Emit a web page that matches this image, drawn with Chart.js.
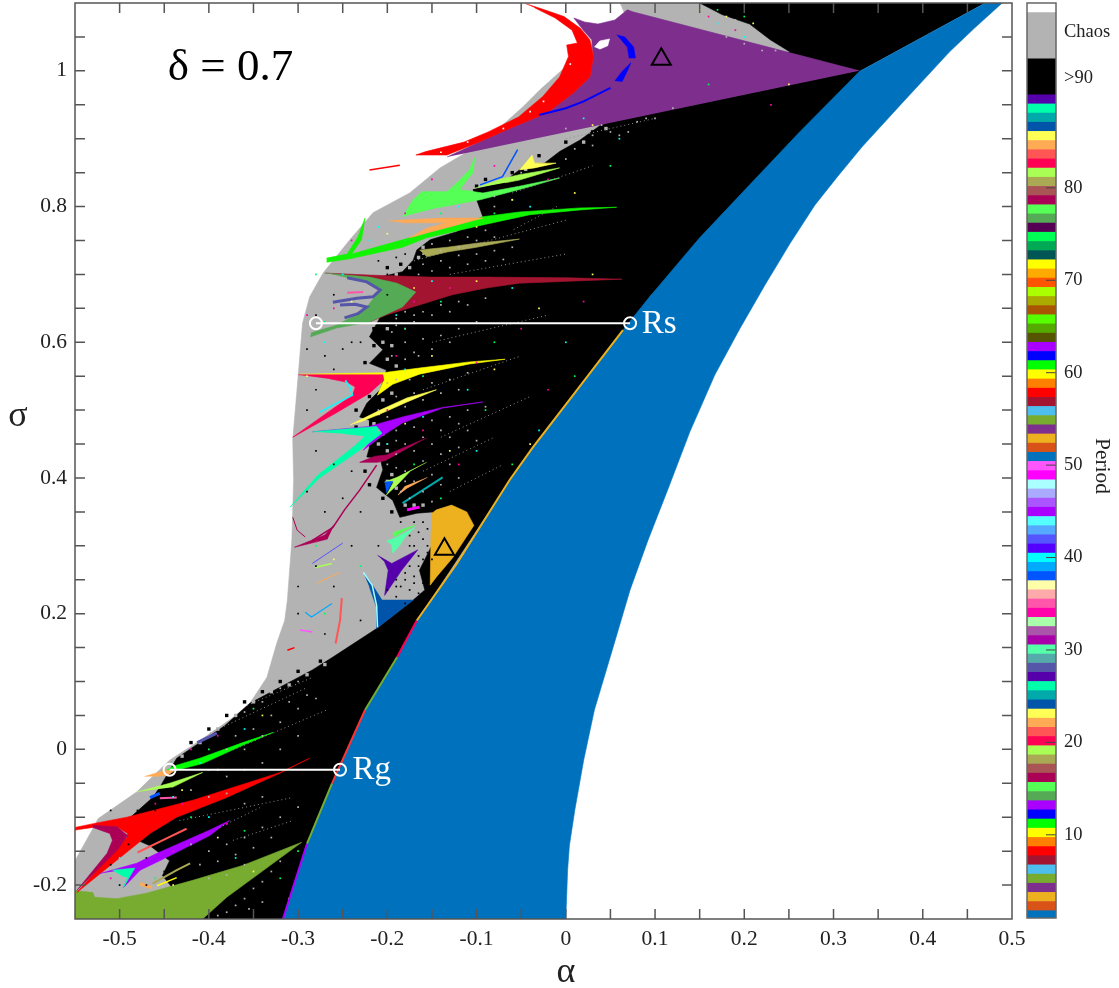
<!DOCTYPE html>
<html>
<head>
<meta charset="utf-8">
<title>Period diagram</title>
<script src="https://cdn.jsdelivr.net/npm/chart.js@4"></script>
<style>
  body { margin: 0; background: #fff; }
  canvas { position: absolute; top: 0; }
  #myChart { left: 0; }
  #periodBar { left: 1020px; }
</style>
</head>
<body>
<canvas id="myChart" width="1119" height="988"></canvas>
<canvas id="periodBar" width="99" height="988"></canvas>
<script>
// axis ticks
const xTickValues = [-0.5,-0.45,-0.4,-0.35,-0.3,-0.25,-0.2,-0.15,-0.1,-0.05,0,0.05,0.1,0.15,0.2,0.25,0.3,0.35,0.4,0.45];
const xTickLabels = ["-0.5","","-0.4","","-0.3","","-0.2","","-0.1","","0","","0.1","","0.2","","0.3","","0.4",""];
const xEndTick = [0.5];
const xEndLabel = ["0.5"];
const yTickValues = [-0.2,-0.15,-0.1,-0.05,0,0.05,0.1,0.15,0.2,0.25,0.3,0.35,0.4,0.45,0.5,0.55,0.6,0.65,0.7,0.75,0.8,0.85,0.9,0.95,1,1.05];
const yTickLabels = ["-0.2","","","","0","","","","0.2","","","","0.4","","","","0.6","","","","0.8","","","","1",""];

// regions of the (alpha, sigma) plane
const greyRegion = [[-.55,-.25],[-.55,-.164],[-.533,-.124],[-.524,-.102],[-.481,-.063],[-.444,-.016],[-.41,.013],[-.373,.047],[-.354,.068],[-.335,.106],[-.324,.156],[-.315,.19],[-.312,.22],[-.307,.308],[-.305,.397],[-.306,.456],[-.3,.549],[-.295,.628],[-.287,.667],[-.272,.702],[-.242,.751],[-.216,.791],[-.175,.82],[-.141,.857],[-.093,.894],[-.048,.947],[-.029,.972],[.066,1.084],[.061,1.1],[.21,1.1],[.3,1.03],[.329,.999],[.094,.667],[-.122,.274],[-.317,-.25]];
const blackRegion = [[.47,1.1],[.15,1.1],[.175,1.083],[.206,1.069],[.229,1.046],[.251,1.028],[.15,.972],[.061,.931],[.038,.919],[.016,.898],[-.007,.881],[-.024,.864],[-.04,.861],[-.052,.854],[-.071,.835],[-.104,.825],[-.093,.785],[-.122,.763],[-.152,.751],[-.167,.736],[-.171,.721],[-.183,.704],[-.208,.696],[-.167,.673],[-.208,.637],[-.22,.608],[-.205,.589],[-.22,.569],[-.201,.559],[-.208,.53],[-.223,.51],[-.231,.49],[-.22,.485],[-.22,.445],[-.223,.431],[-.208,.429],[-.205,.412],[-.212,.386],[-.194,.367],[-.186,.342],[-.167,.348],[-.149,.35],[-.15,.301],[-.164,.264],[-.158,.235],[-.171,.22],[-.212,.178],[-.261,.136],[-.284,.117],[-.354,.068],[-.382,.035],[-.436,-.013],[-.444,-.031],[-.455,-.056],[-.463,-.071],[-.492,-.105],[-.48,-.134],[-.466,-.142],[-.444,-.164],[-.452,-.186],[-.442,-.202],[-.418,-.208],[-.407,-.25],[-.317,-.25],[-.25,-.016],[-.167,.19],[-.063,.397],[.094,.667],[.329,.999]];
const blueBand = [[-.317,-.25],[-.29,-.139],[-.27,-.075],[-.25,-.016],[-.225,.058],[-.189,.136],[-.167,.19],[-.122,.274],[-.063,.397],[-.037,.445],[.004,.515],[.034,.565],[.064,.618],[.094,.667],[.15,.754],[.206,.832],[.262,.91],[.329,.999],[.47,1.1],[.489,1.1],[.458,1.063],[.43,1.028],[.38,.957],[.332,.888],[.305,.845],[.279,.802],[.251,.745],[.223,.684],[.195,.62],[.167,.552],[.139,.468],[.114,.382],[.092,.308],[.072,.235],[.052,.146],[.032,.058],[.02,-.016],[.01,-.09],[.004,-.142],[.002,-.178],[0,-.25]];
const purpleWedge = [[.329,1],[.075,1.087],[.069,1.09],[.055,1.075],[.036,1.069],[.021,1.072],[.009,1.078],[.02,1.059],[.029,1.046],[.031,1.021],[.027,.991],[.009,.968],[-.021,.938],[-.061,.916],[-.099,.894],[-.133,.873]];
const redCrescent = [[-.045,1.099],[-.024,1.09],[-.002,1.08],[.016,1.063],[.027,1.046],[.031,1.021],[.027,.991],[.009,.968],[-.021,.938],[-.061,.916],[-.099,.894],[-.133,.876],[-.168,.876],[-.157,.881],[-.114,.895],[-.087,.91],[-.053,.932],[-.026,.962],[-.007,.991],[.003,1.021],[.001,1.038],[.013,1.041],[.007,1.06],[-.012,1.078],[-.035,1.093]];
const whiteHole = [[.032,1.035],[.038,1.044],[.049,1.047],[.047,1.037],[.038,1.032]];
const blueChip1 = [[.057,1.053],[.066,1.05],[.076,1.035],[.078,1.019],[.071,1.019],[.069,1.035],[.063,1.044]];
const blueChip2 = [[.055,.985],[.063,.999],[.073,1.012],[.069,1.0],[.063,.984]];
const goldBlob = [[-.15,.348],[-.145,.353],[-.128,.36],[-.111,.35],[-.103,.33],[-.127,.282],[-.145,.254],[-.152,.242],[-.151,.323]];
const maroonHorn = [[-.27,.702],[-.22,.699],[-.152,.696],[-.089,.696],[.004,.695],[.063,.693],[.004,.69],[-.052,.687],[-.089,.68],[-.127,.67],[-.164,.655],[-.201,.64],[-.22,.63],[-.208,.677],[-.22,.692]];
const greenCrescent = [[-.27,.702],[-.22,.696],[-.189,.687],[-.168,.674],[-.183,.652],[-.22,.63],[-.257,.621],[-.286,.608],[-.285,.614],[-.257,.625],[-.233,.642],[-.223,.652],[-.208,.677],[-.223,.689],[-.257,.699]];
const limeFan = [[-.183,.785],[-.171,.81],[-.161,.822],[-.133,.822],[-.122,.835],[-.108,.854],[-.102,.872],[-.104,.85],[-.119,.825],[-.093,.82],[-.052,.83],[-.007,.842],[-.052,.825],[-.096,.81],[-.145,.798]];
const greenHorn = [[-.268,.724],[-.245,.73],[-.233,.755],[-.225,.783],[-.229,.751],[-.24,.73],[-.183,.751],[-.156,.761],[-.122,.773],[-.093,.785],[-.052,.792],[.016,.798],[.057,.799],[.016,.795],[-.04,.788],[-.093,.773],[-.156,.754],[-.183,.74],[-.242,.723],[-.268,.718]];
const orangeHorn = [[-.199,.779],[-.138,.783],[-.093,.783],[-.122,.773],[-.156,.761],[-.175,.754],[-.156,.768],[-.133,.776],[-.183,.776]];
const oliveHorn = [[-.164,.736],[-.133,.74],[-.1,.746],[-.052,.752],[-.1,.74],[-.133,.733],[-.156,.726]];
const springHorn = [[-.102,.827],[-.068,.842],[-.052,.847],[-.007,.857],[-.052,.839],[-.068,.835]];
const paleYellowTop = [[-.038,.876],[-.035,.864],[-.011,.864],[-.035,.857],[-.052,.854]];
const crimsonHorn = [[-.3,.552],[-.205,.552],[-.204,.544],[-.22,.525],[-.257,.496],[-.306,.46],[-.259,.504],[-.239,.522],[-.236,.534],[-.245,.541],[-.264,.546]];
const yellowHorn = [[-.298,.553],[-.205,.555],[-.164,.562],[-.108,.571],[-.068,.575],[-.108,.568],[-.164,.553],[-.194,.538],[-.211,.522],[-.204,.544],[-.205,.55]];
const paleYellowHorn = [[-.242,.478],[-.208,.5],[-.178,.518],[-.145,.53],[-.178,.512],[-.205,.496],[-.231,.482]];
const violetHorn = [[-.284,.468],[-.22,.476],[-.183,.49],[-.138,.504],[-.093,.512],[-.138,.503],[-.183,.481],[-.208,.46],[-.227,.441],[-.212,.466]];
const tealHorn = [[-.284,.468],[-.212,.476],[-.206,.466],[-.231,.441],[-.276,.4],[-.309,.357],[-.278,.404],[-.236,.448],[-.225,.462],[-.248,.465]];
const wineHorn = [[-.156,.459],[-.201,.434],[-.214,.432],[-.231,.423],[-.211,.423],[-.201,.426]];
const wineTail = [[-.259,.332],[-.27,.316],[-.287,.307],[-.304,.298],[-.285,.304],[-.267,.31]];
const springSmall = [[-.156,.423],[-.189,.401],[-.203,.394],[-.193,.394],[-.201,.375],[-.188,.391],[-.175,.409]];
const blueSmall = [[-.203,.394],[-.194,.395],[-.201,.378]];
const orangeSmall = [[-.155,.401],[-.178,.385],[-.188,.375],[-.18,.388]];
const mintSmall = [[-.201,.307],[-.192,.311],[-.169,.327],[-.18,.313],[-.186,.301],[-.194,.289],[-.195,.301]];
const limeSmall = [[-.194,.319],[-.18,.326],[-.169,.33],[-.18,.323],[-.192,.313]];
const indigoFan = [[-.211,.286],[-.195,.274],[-.166,.294],[-.184,.264],[-.203,.227],[-.199,.264],[-.203,.276]];
const navyFan = [[-.227,.261],[-.22,.249],[-.206,.22],[-.171,.22],[-.212,.178],[-.212,.209],[-.22,.239]];
const redFan = [[-.55,-.115],[-.524,-.108],[-.492,-.1],[-.418,-.075],[-.32,-.034],[-.287,-.013],[-.32,-.035],[-.38,-.071],[-.436,-.1],[-.466,-.124],[-.548,-.211],[-.492,-.13],[-.491,-.124],[-.503,-.114],[-.53,-.115],[-.55,-.119]];
const wineCrescent = [[-.53,-.112],[-.503,-.114],[-.491,-.127],[-.503,-.149],[-.548,-.208],[-.514,-.153],[-.508,-.134],[-.511,-.124],[-.53,-.115]];
const greenLow = [[-.448,-.031],[-.438,-.024],[-.41,-.013],[-.362,.01],[-.328,.025],[-.362,.006],[-.407,-.021],[-.438,-.031]];
const orangeLow = [[-.472,-.04],[-.449,-.031],[-.438,-.031],[-.446,-.038],[-.46,-.04]];
const springLow = [[-.481,-.063],[-.444,-.05],[-.407,-.034],[-.441,-.056]];
const violetLow = [[-.522,-.183],[-.481,-.168],[-.458,-.153],[-.399,-.119],[-.377,-.105],[-.399,-.127],[-.455,-.164],[-.477,-.178],[-.496,-.204],[-.483,-.175]];
const tealLow = [[-.508,-.178],[-.483,-.175],[-.496,-.204],[-.491,-.189],[-.498,-.186]];
const oliveCorner = [[-.55,-.208],[-.53,-.211],[-.528,-.218],[-.503,-.22],[-.47,-.212],[-.418,-.193],[-.362,-.171],[-.296,-.137],[-.38,-.218],[-.407,-.25],[-.55,-.25]];

const regionColors = {
  grey: "#b3b3b3", black: "#000000", blue: "#0072bd", purple: "#7e2f8e", red: "#ff0000",
  gold: "#edb120", maroon: "#a2142f", olive: "#77ac30", green55: "#55aa55", lime: "#55ff55",
  green: "#11f500", orange: "#ffaa55", khaki: "#aaaa55", spring: "#aaff55", paleYellow: "#ffff55",
  crimson: "#ff0055", yellow: "#ffff00", violet: "#aa00ff", teal: "#00ffaa", wine: "#aa0055",
  azure: "#0055ff", indigo: "#5500aa", navy: "#0055aa", pure: "#0000ff"
};

// thin strokes
const periwinkleArcA = [[-.245,.695],[-.223,.689],[-.208,.677],[-.216,.667],[-.234,.665],[-.261,.659]];
const periwinkleArcB = [[-.253,.655],[-.236,.656],[-.223,.652],[-.233,.642],[-.248,.636]];
const pinkArc = [[-.245,.673],[-.227,.674]];
const azureLine = [[-.096,.832],[-.071,.844],[-.054,.884]];
const cyanEdge = [[-.247,.544],[-.242,.534],[-.239,.522],[-.276,.497]];
const wineCurve = [[-.212,.419],[-.231,.382],[-.248,.353],[-.261,.327],[-.284,.308]];
const wineArc = [[-.306,.342],[-.301,.323],[-.292,.313]];
const navyEdge = [[-.227,.261],[-.217,.242],[-.212,.212],[-.211,.18]];
const coralStroke = [[-.251,.223],[-.253,.19],[-.258,.156]];
const skyStroke = [[-.292,.202],[-.285,.195],[-.262,.215]];
const magentaStroke = [[-.298,.176],[-.284,.173]];
const redStroke = [[-.312,.146],[-.304,.15]];
const springStroke = [[-.281,.268],[-.262,.274]];
const azureStroke = [[-.284,.274],[-.25,.304]];
const orangeStroke = [[-.279,.245],[-.253,.261]];
const redNoise = [[-.22,.854],[-.186,.861]];
const chipLine = [[-.03,.935],[0,.945],[.02,.955],[.05,.975]];
const coralLow = [[-.48,-.152],[-.452,-.134],[-.425,-.117]];
const khakiLow = [[-.463,-.198],[-.436,-.178],[-.421,-.168]];
const yellowLow = [[-.458,-.201],[-.436,-.189]];
const peachLow = [[-.477,-.198],[-.464,-.204]];
const indigoLow = [[-.413,.01],[-.391,.024]];
const azureLow = [[-.466,-.071],[-.455,-.065]];
const pinkLow = [[-.455,-.072],[-.436,-.071]];
const tealSmall = [[-.138,.401],[-.183,.363]];
const magentaSmall = [[-.178,.353],[-.164,.357]];
const bandEdgeViolet = [[-.317,-.25],[-.29,-.139]];
const bandEdgeOlive = [[-.29,-.139],[-.262,-.05]];
const bandEdgeRed = [[-.262,-.05],[-.225,.058]];
const bandEdgeGreen = [[-.225,.058],[-.189,.136]];
const bandEdgePink = [[-.189,.136],[-.167,.19]];
const bandEdgeGold = [[-.167,.19],[-.122,.274],[-.063,.397],[-.037,.445],[.004,.515],[.064,.618]];

// faint streaks running out of the horns
const streaks = [
  [[-.357,.065],[-.284,.106]], [[-.399,.024],[-.29,.091]], [[-.373,-.001],[-.268,.058]],
  [[-.433,-.105],[-.306,-.071]], [[-.388,-.115],[-.343,-.086]], [[-.373,-.134],[-.306,-.105]],
  [[-.17,.72],[0,.78]], [[-.13,.7],[0,.73]], [[-.15,.6],[-.02,.64]], [[-.16,.53],[-.05,.58]],
  [[-.14,.46],[-.04,.52]], [[-.16,.41],[-.08,.46]], [[-.13,.38],[-.07,.42]], [[0,.9],[.1,.93]],
  [[-.01,.8],[-.06,.765]], [[-.06,.82],[.03,.86]]
];

// isolated pixels
const greySpecks = [[-.16,.715],[-.14,.72],[-.12,.728],[-.1,.73],[-.08,.735],[-.06,.74],[-.15,.705],[-.13,.71],[-.11,.715],[-.09,.72],[-.07,.722],[-.165,.7],[-.19,.625],[-.17,.63],[-.15,.64],[-.13,.645],[-.11,.655],[-.09,.665],[-.18,.6],[-.16,.605],[-.14,.61],[-.12,.62],[-.1,.63],[-.17,.585],[-.15,.59],[-.13,.6],[-.19,.52],[-.17,.525],[-.15,.54],[-.13,.545],[-.11,.555],[-.18,.505],[-.16,.515],[-.14,.525],[-.12,.53],[-.19,.47],[-.17,.475],[-.15,.485],[-.13,.49],[-.11,.5],[-.09,.505],[-.18,.45],[-.16,.46],[-.14,.47],[-.12,.48],[-.19,.435],[-.17,.44],[-.15,.45],[-.13,.46],[-.11,.47],[-.18,.41],[-.16,.425],[-.14,.435],[-.12,.445],[-.1,.455],[-.17,.395],[-.15,.405],[-.13,.42],[-.16,.38],[-.14,.39],[-.12,.4],[-.15,.365],[0,.915],[.02,.905],[.04,.92],[.06,.905],[.08,.925],[.1,.93],[.12,.945],[-.01,.895],[.03,.89],[.07,.91],[-.02,.875],[0,.87],[.16,1.06],[.18,1.05],[.2,1.04],[.22,1.03],[.19,1.075],[.21,1.055],[.235,1.03],[-.36,.055],[-.34,.07],[-.32,.09],[-.3,.1],[-.35,.03],[-.33,.05],[-.31,.07],[-.29,.08],[-.37,.02],[-.38,0],[-.36,0],[-.34,.02],[-.32,.04],[-.3,.06],[-.28,.075],[-.4,-.03],[-.38,-.04],[-.36,-.03],[-.34,-.02],[-.32,0],[-.3,.02],[-.42,-.06],[-.4,-.07],[-.38,-.065],[-.36,-.08],[-.34,-.07],[-.42,-.14],[-.4,-.15],[-.38,-.14],[-.36,-.13],[-.34,-.115],[-.32,-.1],[-.3,-.085],[-.41,-.17],[-.39,-.165],[-.37,-.155],[-.35,-.145],[-.33,-.13],[-.4,-.19],[-.38,-.185],[-.36,-.17],[-.38,-.24],[-.37,-.23],[-.36,-.22],[-.35,-.205],[-.34,-.195],[-.33,-.18],[-.32,-.165],[-.39,-.245],[-.355,-.235],[-.34,-.225],[-.15,.745],[-.13,.75],[-.11,.755],[-.09,.765],[-.14,.735],[-.12,.74],[-.1,.75],[-.16,.73],[-.08,.755],[-.18,.645],[-.16,.645],[-.14,.655],[-.12,.66],[-.19,.635],[-.17,.64],[-.195,.615],[-.18,.62],[-.195,.58],[-.18,.575],[-.165,.58],[-.2,.54],[-.19,.545],[-.175,.545],[-.21,.5],[-.2,.49],[-.21,.47],[-.2,.45],[-.19,.455],[-.2,.42],[-.19,.415],[-.18,.395],[-.185,.38],[-.175,.37],[-.03,.87],[-.015,.88],[.01,.885],[.03,.905],[.05,.91],[.09,.93],[-.05,.85],[-.08,.8],[-.1,.8],[-.08,.815],[-.06,.81]];
const greyEdgeSpecks = [[-.2,.62],[-.205,.6],[-.195,.595],[-.2,.575],[-.19,.565],[-.195,.525],[-.205,.515],[-.21,.495],[-.215,.48],[-.205,.465],[-.21,.45],[-.2,.44],[-.195,.405],[-.2,.395],[-.19,.385],[-.18,.36],[-.17,.36],[-.16,.36],[-.16,.74],[-.165,.725],[-.175,.71],[-.19,.7],[-.045,.855],[-.035,.87],[-.01,.885],[.02,.895],[.045,.915],[-.27,.125],[-.29,.11],[-.31,.095],[-.33,.085],[-.35,.07],[-.37,.05],[-.39,.03],[-.41,.01],[-.43,-.01]];
const blackSpecks = [[-.29,.5],[-.28,.53],[-.27,.58],[-.25,.59],[-.29,.59],[-.28,.44],[-.26,.42],[-.29,.38],[-.27,.35],[-.25,.37],[-.24,.3],[-.28,.27],[-.3,.24],[-.26,.24],[-.3,.2],[-.27,.17],[-.23,.19],[-.25,.14],[-.21,.3],[-.23,.35],[-.24,.41],[-.19,.25],[-.18,.25],[-.17,.255],[-.165,.27],[-.16,.28],[-.155,.29],[-.15,.28],[-.175,.27],[-.185,.24],[-.175,.235],[-.165,.23],[-.19,.225],[-.2,.235],[-.18,.215],[-.17,.3],[-.16,.31],[-.155,.325],[-.175,.315],[-.165,.32],[-.45,-.18],[-.47,-.16],[-.51,-.17],[-.5,-.2],[-.47,-.2],[-.49,-.14],[-.46,-.09],[-.48,-.09],[-.51,-.09],[-.2,.7],[-.21,.72],[-.19,.725],[-.18,.73],[-.2,.67],[-.26,.67],[-.28,.64],[-.24,.6],[-.2,.595],[-.26,.56],[-.23,.6],[-.16,.245],[-.155,.26],[-.17,.245],[-.18,.26],[-.19,.24],[-.16,.27],[-.165,.285],[-.155,.3],[-.16,.335],[-.17,.335],[-.18,.345],[-.175,.3],[-.185,.335]];
const blackEdgeSpecks = [[-.215,.62],[-.215,.595],[-.225,.57],[-.215,.545],[-.22,.52],[-.235,.5],[-.235,.475],[-.23,.45],[-.225,.41],[-.22,.39],[-.205,.37],[-.195,.35],[-.175,.355],[-.17,.71],[-.185,.715],[-.2,.71],[-.1,.83],[-.09,.84],[-.06,.85],[-.03,.875],[0,.895],[.03,.91],[-.275,.13],[-.3,.115],[-.32,.1],[-.34,.085],[-.36,.07],[-.38,.05],[-.4,.03],[-.42,.01]];
const pinkSpecks = [[-.17,.66],[-.13,.68],[-.05,.62],[.02,.66],[-.19,.58],[-.1,.57],[-.02,.53],[-.2,.5],[-.12,.42],[-.16,.47],[-.24,.75],[-.18,.79],[-.15,.84],[-.08,.86],[-.42,0],[-.39,.02],[-.46,-.08],[-.43,-.08],[-.38,-.11],[-.44,-.15],[-.51,-.19],[-.02,.84],[.16,1.08],[.19,1.06],[.23,.95],[-.29,.64],[-.26,.65]];
const cyanSpecks = [[-.19,.64],[-.15,.69],[-.06,.68],[0,.6],[-.18,.56],[-.11,.53],[-.03,.47],[-.16,.49],[-.1,.44],[-.2,.45],[-.21,.77],[-.12,.8],[-.04,.8],[.06,.9],[.02,.93],[-.36,.03],[-.41,-.02],[-.44,-.07],[-.4,-.1],[-.37,-.16],[-.3,-.2],[-.5,-.16],[.17,1.07],[.2,1.05],[.27,.9],[-.27,.6],[-.25,.7],[-.22,.75]];
const yellowSpecks = [[-.17,.68],[-.1,.69],[-.03,.65],[.03,.7],[-.15,.58],[-.08,.56],[-.04,.45],[-.13,.44],[-.18,.48],[-.2,.76],[-.1,.77],[-.06,.81],[.01,.82],[.03,.92],[-.34,.05],[-.39,-.03],[-.43,-.06],[-.39,-.13],[-.35,-.18],[-.31,-.22],[-.44,-.2],[.15,1.09],[.18,1.08],[.21,1.07],[.25,.98],[-.24,.66],[-.29,.55],[-.26,.28]];
const greenSpecks = [[-.18,.62],[-.14,.66],[-.08,.6],[.01,.55],[-.16,.55],[-.09,.5],[-.06,.42],[-.17,.42],[-.14,.37],[-.18,.75],[-.14,.79],[-.08,.79],[.05,.86],[.16,.98],[-.35,.06],[-.4,0],[-.42,-.1],[-.36,-.12],[-.32,-.19],[-.3,-.15],[-.46,-.19],[.17,1.09],[.2,1.08],[-.27,.2],[-.28,.3],[-.23,.27],[-.27,.63],[-.28,.7]];
const whiteSpecks = [[-.02,.985],[-.01,1],[.005,1.01],[-.025,.955],[-.04,.94],[-.01,1.03],[0,1.05],[-.07,.915],[-.11,.895],[-.14,.88]];

// marked points and the two guide lines
const rsLine = [[-.28,.628],[.072,.628]];
const rgLine = [[-.444,-.03],[-.253,-.03]];
const triangles = [[-.136,.295],[.107,1.017]];

// annotations anchored on the data axes
const noteTexts = ["δ = 0.7", "Rs", "Rg"];
const noteX = [-.446, .085, -.239];
const noteY = [.987, .614, -.043];

// color bar: top edge of every period cell
const periodTops = [1.79,2.78,3.77,4.76,5.75,6.75,7.74,8.73,9.72,10.72,11.71,12.7,13.69,14.68,15.68,16.67,17.66,18.65,19.64,20.64,21.63,22.62,23.61,24.6,25.6,26.59,27.58,28.57,29.56,30.56,31.55,32.54,33.53,34.52,35.52,36.51,37.5,38.49,39.48,40.48,41.47,42.46,43.45,44.44,45.44,46.43,47.42,48.41,49.4,50.4,51.39,52.38,53.37,54.36,55.36,56.35,57.34,58.33,59.32,60.32,61.31,62.3,63.29,64.28,65.28,66.27,67.26,68.25,69.24,70.24,71.23,72.22,73.21,74.2,75.2,76.19,77.18,78.17,79.16,80.16,81.15,82.14,83.13,84.12,85.12,86.11,87.1,88.09,89.08,90.07,93.96,98.97,100];
const periodColors = ["#0072bd","#d95319","#edb120","#7e2f8e","#77ac30","#4dbeee","#a2142f","#ff0000","#ff8000","#ffff00","#00ff00","#0000ff","#aa00ff","#55aa55","#55ff55","#aa0055","#aa5555","#aaaa55","#aaff55","#ff0055","#ff5555","#ffaa55","#ffff55","#0055aa","#00aaaa","#00ffaa","#5500aa","#5555aa","#55aaaa","#55ffaa","#aa00aa","#aa55aa","#aaffaa","#ff00aa","#ff55aa","#ffaaaa","#ffffaa","#0055ff","#00aaff","#00ffff","#5500ff","#5555ff","#55aaff","#55ffff","#aa00ff","#aa55ff","#aaaaff","#aaffff","#ff00ff","#ff55ff","#0072bd","#d95319","#edb120","#7e2f8e","#77ac30","#4dbeee","#a2142f","#ff0000","#ff8000","#ffff00","#00ff00","#0000ff","#aa00ff","#555500","#55aa00","#55ff00","#aa5500","#aaaa00","#aaff00","#ff5500","#ffaa00","#ffff00","#005555","#00aa55","#00ff55","#550055","#55aa55","#55ff55","#aa0055","#aa5555","#aaaa55","#aaff55","#ff0055","#ff5555","#ffaa55","#ffff55","#0055aa","#00aaaa","#00ffaa","#5500aa","#000000","#b3b3b3","#ffffff"];
const barTickValues = [10,20,30,40,50,60,70,80,91.9,96.8];
const barTickLabels = ["10","20","30","40","50","60","70","80",">90","Chaos"];
const barMarkedTicks = [10,20,30,40,50,60,70,80];

const serif = "'Liberation Serif', 'Times New Roman', serif";
const inkColor = "#222222";
const frameColor = "#555555";

function toPoints(list) {
  return list.map((p) => ({ x: p[0], y: p[1] }));
}

function region(list, color) {
  return {
    data: toPoints(list), showLine: true, fill: "shape", tension: 0, pointRadius: 0,
    borderColor: color, backgroundColor: color, borderWidth: 0.6
  };
}

function stroke(list, color, width) {
  return {
    data: toPoints(list), showLine: true, fill: false, tension: 0, pointRadius: 0,
    borderColor: color, borderWidth: width || 1.5
  };
}

function speckle(list, color, size) {
  return {
    data: toPoints(list), showLine: false, pointStyle: "rect", pointRadius: size || 1.2,
    pointBackgroundColor: color, pointBorderWidth: 0
  };
}

const c = regionColors;
// painted back to front
const layers = [
  region(greyRegion, c.grey), region(blackRegion, c.black),
  speckle(greyEdgeSpecks, c.grey, 2.4), speckle(blackEdgeSpecks, c.black, 2.4),
  region(oliveCorner, c.olive),
  region(purpleWedge, c.purple), region(redCrescent, c.red),
  region(whiteHole, "#ffffff"), region(blueChip1, c.pure), region(blueChip2, c.pure), stroke(chipLine, c.pure, 2),
  region(goldBlob, c.gold),
  region(maroonHorn, c.maroon), region(greenCrescent, c.green55),
  stroke(periwinkleArcA, "#5555aa", 3), stroke(periwinkleArcB, "#5555aa", 3), stroke(pinkArc, "#ff55aa", 2),
  region(limeFan, c.lime), region(greenHorn, c.green), region(orangeHorn, c.orange), region(oliveHorn, c.khaki),
  region(springHorn, c.spring), stroke(azureLine, c.azure, 1.5), region(paleYellowTop, c.paleYellow),
  region(yellowHorn, c.yellow), region(crimsonHorn, c.crimson), stroke(cyanEdge, "#00ffff", 1.5),
  region(paleYellowHorn, c.paleYellow), region(violetHorn, c.violet), region(tealHorn, c.teal),
  region(wineHorn, c.wine), region(wineTail, c.wine), stroke(wineCurve, c.wine, 1.5), stroke(wineArc, c.wine, 1),
  region(springSmall, c.spring), region(blueSmall, c.azure), region(orangeSmall, c.orange),
  stroke(tealSmall, "#00aaaa", 2), stroke(magentaSmall, "#ff00ff", 3),
  region(limeSmall, c.lime), region(mintSmall, "#55ffaa"),
  region(indigoFan, c.indigo), region(navyFan, c.navy), stroke(navyEdge, "#aaffff", 1.5),
  stroke(coralStroke, "#ff5555", 2), stroke(skyStroke, "#00aaff", 1.2), stroke(magentaStroke, "#ff55ff", 1.5),
  stroke(redStroke, "#ff0000", 1.5), stroke(springStroke, c.spring, 1.5), stroke(azureStroke, "#5555ff", 1),
  stroke(orangeStroke, c.orange, 1), stroke(redNoise, "#ff0000", 1.5),
  region(redFan, c.red), region(wineCrescent, c.wine),
  region(greenLow, "#00ff00"), region(orangeLow, c.orange), region(springLow, c.spring),
  stroke(indigoLow, "#5555aa", 3), stroke(azureLow, c.azure, 3), stroke(pinkLow, "#ff55aa", 2),
  region(violetLow, c.violet), region(tealLow, c.teal),
  stroke(coralLow, "#ff5555", 2), stroke(khakiLow, c.khaki, 2), stroke(yellowLow, "#ffff00", 1.5), stroke(peachLow, c.orange, 3)
];
streaks.forEach((s) => {
  const d = stroke(s, "#8f8f8f", 1);
  d.borderDash = [1, 3];
  layers.push(d);
});
layers.push(
  speckle(greySpecks, "#b3b3b3"), speckle(blackSpecks, "#000000"), speckle(pinkSpecks, "#ff00aa"),
  speckle(cyanSpecks, "#00ffff"), speckle(yellowSpecks, "#ffff55"), speckle(greenSpecks, "#00ff55"),
  speckle(whiteSpecks, "#ffffff"),
  region(blueBand, c.blue),
  stroke(bandEdgeViolet, "#aa00ff", 2), stroke(bandEdgeOlive, c.olive, 2), stroke(bandEdgeRed, "#ff3333", 2),
  stroke(bandEdgeGreen, c.olive, 2), stroke(bandEdgePink, "#ff0055", 2), stroke(bandEdgeGold, c.gold, 2)
);

// guide lines and markers go last
function markerLine(list) {
  return {
    data: toPoints(list), showLine: true, fill: false, borderColor: "#ffffff", borderWidth: 2,
    pointStyle: "circle", pointRadius: 6, pointBorderColor: "#ffffff", pointBorderWidth: 2,
    pointBackgroundColor: "rgba(0,0,0,0)"
  };
}
layers.push(markerLine(rsLine), markerLine(rgLine), {
  data: toPoints(triangles), showLine: false, pointStyle: "triangle", pointRadius: 11,
  pointBorderColor: "#000000", pointBorderWidth: 2, pointBackgroundColor: "rgba(0,0,0,0)"
});
layers.forEach((d, i) => { d.order = layers.length - i; });

// ticks point inwards on all four sides, so they are drawn by hand from the scales
const framePlugin = {
  id: "frame",
  afterDatasetsDraw(chart) {
    const { ctx, chartArea: a, scales } = chart;
    ctx.save();
    ctx.strokeStyle = frameColor;
    ctx.lineWidth = 1.5;
    ctx.beginPath();
    xTickValues.forEach((v) => {
      const px = scales.x.getPixelForValue(v);
      ctx.moveTo(px, a.bottom); ctx.lineTo(px, a.bottom - 10);
      ctx.moveTo(px, a.top); ctx.lineTo(px, a.top + 10);
    });
    yTickValues.forEach((v) => {
      const py = scales.y.getPixelForValue(v);
      ctx.moveTo(a.left, py); ctx.lineTo(a.left + 10, py);
      ctx.moveTo(a.right, py); ctx.lineTo(a.right - 10, py);
    });
    ctx.stroke();
    ctx.strokeRect(a.left, a.top, a.right - a.left, a.bottom - a.top);

    noteTexts.forEach((t, i) => {
      ctx.fillStyle = i === 0 ? "#000000" : "#ffffff";
      ctx.font = (i === 0 ? "45px " : "33px ") + serif;
      ctx.textAlign = "left";
      ctx.textBaseline = "alphabetic";
      ctx.fillText(t, scales.x.getPixelForValue(noteX[i]), scales.y.getPixelForValue(noteY[i]));
    });
    // axis names
    ctx.fillStyle = inkColor;
    ctx.font = "36px " + serif;
    ctx.textAlign = "center";
    ctx.fillText("α", scales.x.getPixelForValue(0), a.bottom + 63);
    ctx.fillText("σ", 18, scales.y.getPixelForValue(0.476));
    ctx.restore();
  }
};

new Chart(document.getElementById("myChart").getContext("2d"), {
  type: "scatter",
  data: { datasets: layers },
  options: {
    responsive: false,
    animation: false,
    layout: { autoPadding: false, padding: { top: 3, right: 107, left: 0, bottom: 0 } },
    plugins: { legend: { display: false }, tooltip: { enabled: false } },
    scales: {
      x: {
        type: "linear", min: -0.55, max: 0.5,
        grid: { display: false, drawTicks: false }, border: { display: false },
        afterBuildTicks: (s) => { s.ticks = xTickValues.concat(xEndTick).map((v) => ({ value: v })); },
        afterFit: (s) => { s.height = 69; s.paddingLeft = 0; s.paddingRight = 0; },
        ticks: {
          autoSkip: false, maxRotation: 0, padding: 7, color: inkColor,
          font: { family: serif, size: 21.5 },
          callback: (v, i) => xTickLabels.concat(xEndLabel)[i]
        }
      },
      y: {
        type: "linear", min: -0.25, max: 1.1,
        grid: { display: false, drawTicks: false }, border: { display: false },
        afterBuildTicks: (s) => { s.ticks = yTickValues.map((v) => ({ value: v })); },
        afterFit: (s) => { s.width = 75; s.paddingTop = 0; s.paddingBottom = 0; },
        ticks: {
          autoSkip: false, padding: 8, color: inkColor,
          font: { family: serif, size: 21.5 },
          callback: (v, i) => yTickLabels[i]
        }
      }
    }
  },
  plugins: [framePlugin]
});

// color bar
const barDatasets = periodTops.map((top, i) => ({
  data: [[i === 0 ? 1 : periodTops[i - 1], top]],
  backgroundColor: periodColors[i],
  borderWidth: 0,
  barPercentage: 1,
  categoryPercentage: 1
}));

const barFramePlugin = {
  id: "barFrame",
  afterDatasetsDraw(chart) {
    const { ctx, chartArea: a, scales } = chart;
    ctx.save();
    ctx.strokeStyle = "#444444";
    ctx.lineWidth = 1;
    ctx.beginPath();
    barMarkedTicks.forEach((v) => {
      const py = scales.y.getPixelForValue(v);
      ctx.moveTo(a.right, py); ctx.lineTo(a.right - 10, py);
    });
    ctx.stroke();
    ctx.strokeStyle = "#666666";
    ctx.lineWidth = 1.5;
    ctx.strokeRect(a.left, a.top, a.right - a.left, a.bottom - a.top);
    ctx.translate(82, 466);
    ctx.rotate(Math.PI / 2);
    ctx.fillStyle = inkColor;
    ctx.font = "21.5px " + serif;
    ctx.textAlign = "center";
    ctx.textBaseline = "middle";
    ctx.fillText("Period", 0, 0);
    ctx.restore();
  }
};

new Chart(document.getElementById("periodBar").getContext("2d"), {
  type: "bar",
  data: { labels: [""], datasets: barDatasets },
  options: {
    responsive: false,
    animation: false,
    layout: { autoPadding: false, padding: { top: 3, left: 7, right: 0, bottom: 70 } },
    plugins: { legend: { display: false }, tooltip: { enabled: false } },
    scales: {
      x: { display: false, stacked: true },
      y: {
        position: "right", min: 1, max: 100,
        grid: { display: false, drawTicks: false }, border: { display: false },
        afterBuildTicks: (s) => { s.ticks = barTickValues.map((v) => ({ value: v })); },
        afterFit: (s) => { s.width = 63; s.paddingTop = 0; s.paddingBottom = 0; },
        ticks: {
          autoSkip: false, padding: 8, color: inkColor,
          font: { family: serif, size: 18.5 },
          callback: (v, i) => barTickLabels[i]
        }
      }
    }
  },
  plugins: [barFramePlugin]
});
</script>
</body>
</html>
